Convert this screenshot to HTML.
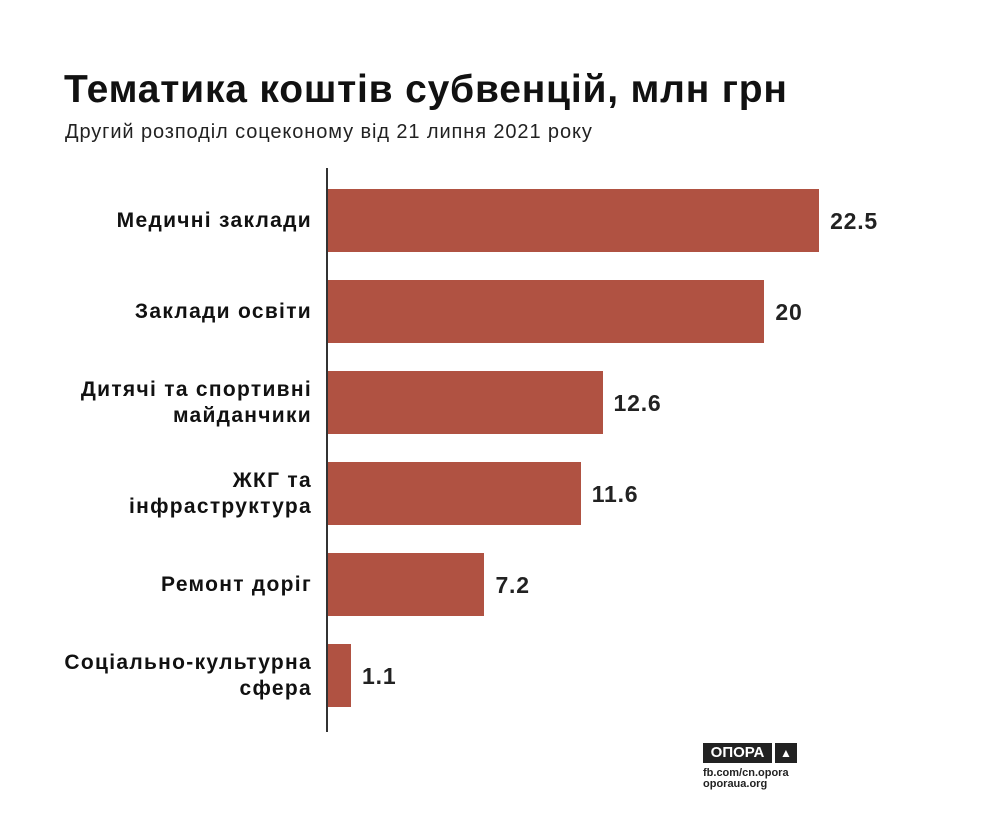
<!DOCTYPE html>
<html><head><meta charset="utf-8"><style>
body{margin:0;width:1000px;height:818px;background:#fff;font-family:"Liberation Sans","DejaVu Sans",sans-serif;position:relative;overflow:hidden}
#title{position:absolute;left:64px;top:68px;font-size:39px;font-weight:bold;color:#111;margin:0;letter-spacing:0.8px;white-space:nowrap}
#sub{position:absolute;left:65px;top:121px;font-size:20px;color:#222;letter-spacing:0.9px;white-space:nowrap}
.lbl{position:absolute;right:688px;text-align:right;font-size:21px;font-weight:bold;color:#111;line-height:26px;letter-spacing:1.3px;white-space:nowrap}
.val{position:absolute;font-size:23px;font-weight:bold;color:#222;letter-spacing:0.8px}
</style></head><body>
<h1 id="title">Тематика коштів субвенцій, млн грн</h1>
<div id="sub">Другий розподіл соцеконому від 21 липня 2021 року</div>
<div id="chart"></div>
<div style="position:absolute;left:703px;top:743px;width:69px;height:20px;background:#222;color:#fff;font-weight:bold;font-size:15px;line-height:20px;text-align:center">ОПОРА</div>
<div style="position:absolute;left:775px;top:743px;width:22px;height:20px;background:#222;color:#fff;font-size:12px;line-height:20px;text-align:center">▲</div>
<div style="position:absolute;left:703px;top:768px;font-size:11px;line-height:11px;font-weight:bold;color:#222">fb.com/cn.opora<br>oporaua.org</div>
<script>
const categories=["Медичні заклади","Заклади освіти","Дитячі та спортивні<br>майданчики","ЖКГ та<br>інфраструктура","Ремонт доріг","Соціально-культурна<br>сфера"];
const values=[22.5,20,12.6,11.6,7.2,1.1];
const valueLabels=["22.5","20","12.6","11.6","7.2","1.1"];
const x0=327,pxPer=21.87,top0=189,pitch=91,bh=63;
const xs=v=>x0+v*pxPer;
const c=document.getElementById('chart');
const axis=document.createElement('div');


axis.style.cssText='position:absolute;left:326px;top:168px;width:2px;height:564px;background:#333';
values.forEach((v,i)=>{
  const y=top0+i*pitch;
  const b=document.createElement('div');
  
  
  b.style.cssText=`position:absolute;left:${x0}px;top:${y}px;width:${xs(v)-x0}px;height:${bh}px;background:#b05242`;
  c.appendChild(b);
  const l=document.createElement('div');
  
  
  l.className='lbl';l.innerHTML=categories[i];
  const lines=categories[i].split('<br>').length;
  l.style.top=(y+bh/2-lines*13)+'px';
  c.appendChild(l);
  const t=document.createElement('div');
  
  
  t.className='val';t.textContent=valueLabels[i];
  t.style.left=(xs(v)+11)+'px';t.style.top=(y+bh/2-13)+'px';
  c.appendChild(t);
});
c.appendChild(axis);
</script>
</body></html>
